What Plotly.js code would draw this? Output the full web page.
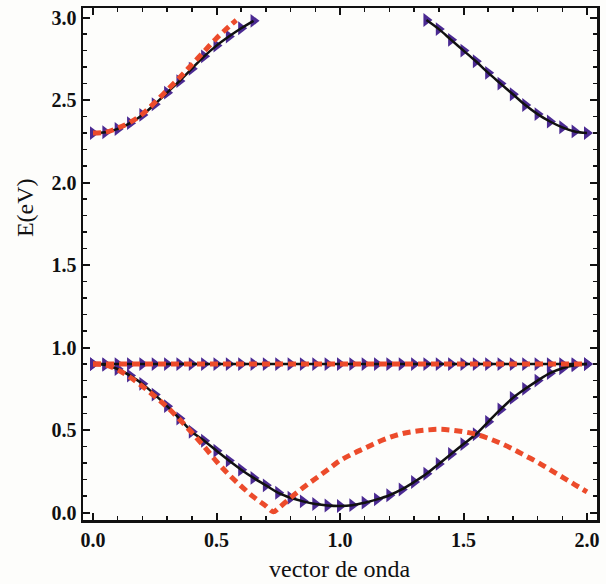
<!DOCTYPE html>
<html>
<head>
<meta charset="utf-8">
<script src="https://cdn.plot.ly/plotly-3.0.1.min.js"></script>
<style>html,body{margin:0;padding:0;background:#fdfdfb;}#chart{width:606px;height:584px;}</style>
</head>
<body>
<div id="chart"></div>
<script>
// Lower band (black line + purple markers)
const lowX = [0.00,0.05,0.10,0.15,0.20,0.25,0.30,0.35,0.40,0.45,0.50,0.55,0.60,0.65,0.70,0.75,0.80,0.85,0.90,0.95,1.00,1.05,1.10,1.15,1.20,1.25,1.30,1.35,1.40,1.45,1.50,1.55,1.60,1.65,1.70,1.75,1.80,1.85,1.90,1.95,2.00];
const lowE = [0.90,0.895,0.87,0.83,0.78,0.715,0.645,0.57,0.49,0.435,0.375,0.315,0.26,0.21,0.165,0.12,0.09,0.068,0.052,0.043,0.04,0.045,0.06,0.08,0.105,0.14,0.185,0.235,0.295,0.355,0.415,0.475,0.55,0.625,0.695,0.75,0.80,0.845,0.875,0.893,0.90];
// Flat band at 0.9
const flatX = [0.00,0.05,0.10,0.15,0.20,0.25,0.30,0.35,0.40,0.45,0.50,0.55,0.60,0.65,0.70,0.75,0.80,0.85,0.90,0.95,1.00,1.05,1.10,1.15,1.20,1.25,1.30,1.35,1.40,1.45,1.50,1.55,1.60,1.65,1.70,1.75,1.80,1.85,1.90,1.95,2.00];
const flatE = [0.9,0.9,0.9,0.9,0.9,0.9,0.9,0.9,0.9,0.9,0.9,0.9,0.9,0.9,0.9,0.9,0.9,0.9,0.9,0.9,0.9,0.9,0.9,0.9,0.9,0.9,0.9,0.9,0.9,0.9,0.9,0.9,0.9,0.9,0.9,0.9,0.9,0.9,0.9,0.9,0.9];
// Upper band, left branch
const upLX = [0.00,0.05,0.10,0.15,0.20,0.25,0.30,0.35,0.40,0.45,0.50,0.55,0.60,0.65];
const upLE = [2.30,2.305,2.325,2.36,2.41,2.475,2.545,2.615,2.69,2.765,2.83,2.885,2.935,2.98];
// Upper band, right branch
const upRX = [1.35,1.40,1.45,1.50,1.55,1.60,1.65,1.70,1.75,1.80,1.85,1.90,1.95,2.00];
const upRE = [2.985,2.93,2.865,2.80,2.735,2.665,2.60,2.535,2.47,2.415,2.37,2.335,2.31,2.30];
// Red dashed: upper
const redUpX = [0.00,0.05,0.10,0.15,0.20,0.25,0.30,0.35,0.40,0.45,0.50,0.55,0.58];
const redUpE = [2.30,2.305,2.33,2.365,2.415,2.485,2.56,2.635,2.715,2.795,2.875,2.945,2.985];
// Red dashed: flat
const redFlatX = [0.00,2.00];
const redFlatE = [0.9,0.9];
// Red dashed: lower
const redLowX = [0.00,0.05,0.10,0.15,0.20,0.25,0.30,0.35,0.40,0.45,0.50,0.55,0.60,0.65,0.70,0.73,0.75,0.80,0.85,0.90,0.95,1.00,1.05,1.10,1.15,1.20,1.25,1.30,1.35,1.40,1.45,1.50,1.55,1.60,1.65,1.70,1.75,1.80,1.85,1.90,1.95,2.00];
const redLowE = [0.90,0.895,0.865,0.82,0.765,0.705,0.64,0.565,0.485,0.40,0.31,0.23,0.16,0.095,0.04,0.005,0.025,0.09,0.15,0.205,0.26,0.315,0.355,0.39,0.425,0.455,0.478,0.492,0.50,0.505,0.50,0.49,0.475,0.45,0.42,0.385,0.345,0.305,0.26,0.215,0.17,0.125];

const purple = '#4b2a92';
const red = '#ec4b2b';
const black = '#111111';
const serif = 'Times New Roman, Liberation Serif, serif';

function markers(x, y) {
  return {x: x, y: y, type: 'scatter', mode: 'markers', hoverinfo: 'skip',
    marker: {symbol: 'triangle-right', size: 12, color: purple, line: {width: 0}}, showlegend: false};
}
function solid(x, y) {
  return {x: x, y: y, type: 'scatter', mode: 'lines', hoverinfo: 'skip',
    line: {color: black, width: 2.5, shape: 'spline'}, showlegend: false};
}
function dashed(x, y) {
  return {x: x, y: y, type: 'scatter', mode: 'lines', hoverinfo: 'skip',
    line: {color: red, width: 5, dash: '8px,5px', shape: 'spline'}, showlegend: false};
}

const data = [
  markers(lowX, lowE), markers(flatX, flatE), markers(upLX, upLE), markers(upRX, upRE),
  solid(lowX, lowE), solid(flatX, flatE), solid(upLX, upLE), solid(upRX, upRE),
  dashed(redUpX, redUpE), dashed(redFlatX, redFlatE), dashed(redLowX, redLowE)
];

const tickFont = {family: serif, size: 20, color: '#111', weight: 'bold'};
const axisCommon = {
  showline: true, linecolor: '#111', linewidth: 2.5, mirror: 'allticks',
  ticks: 'inside', ticklen: 7, tickwidth: 2, tickcolor: '#111',
  showgrid: false, zeroline: false, tickfont: tickFont, tickformat: '.1f',
  minor: {dtick: 0.1, ticks: 'inside', ticklen: 4, tickwidth: 1.5, tickcolor: '#111', showgrid: false}
};

const layout = {
  width: 606, height: 584,
  margin: {l: 83, r: 9, t: 8, b: 64},
  font: {family: serif},
  paper_bgcolor: '#fdfdfb', plot_bgcolor: '#fdfdfb',
  xaxis: Object.assign({}, axisCommon, {range: [-0.0405, 2.0405], dtick: 0.5, tick0: 0}),
  yaxis: Object.assign({}, axisCommon, {range: [-0.045, 3.058], dtick: 0.5, tick0: 0}),
  annotations: [
    {text: 'vector de onda', xref: 'paper', yref: 'paper', x: 0.5, y: -0.0957, xanchor: 'center', yanchor: 'middle',
     showarrow: false, font: {family: serif, size: 24, color: '#111'}},
    {text: 'E(eV)', xref: 'paper', yref: 'paper', x: -0.113, y: 0.611, xanchor: 'center', yanchor: 'middle',
     textangle: -90, showarrow: false, font: {family: serif, size: 24, color: '#111'}}
  ]
};

Plotly.newPlot('chart', data, layout, {staticPlot: true, displayModeBar: false});
</script>
</body>
</html>
